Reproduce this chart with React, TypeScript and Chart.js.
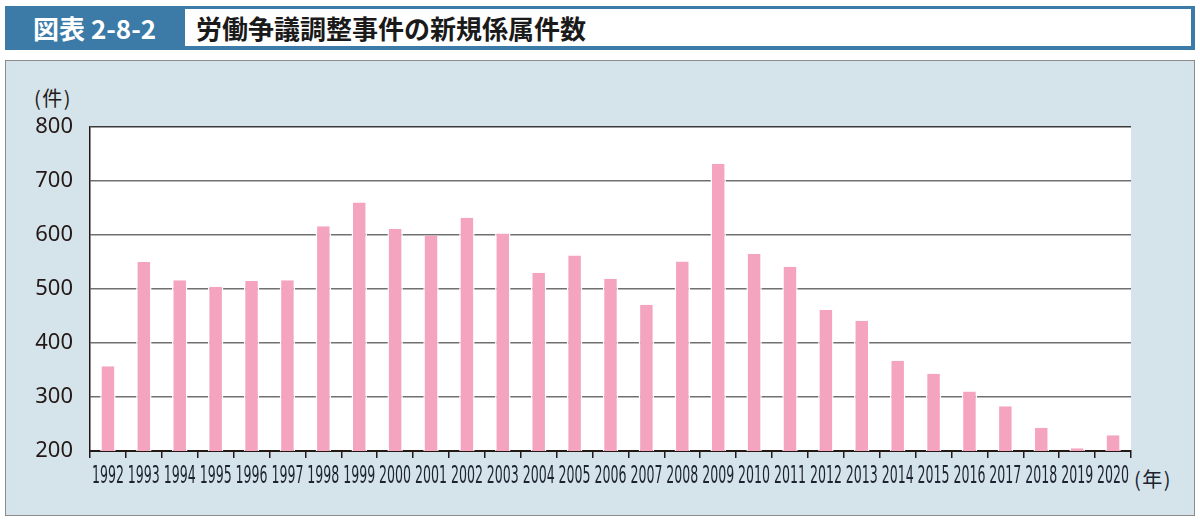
import React, { useEffect, useRef } from "react";
import { Chart, registerables } from "chart.js";

Chart.register(...registerables);

const years = [
  "1992", "1993", "1994", "1995", "1996", "1997", "1998", "1999", "2000", "2001",
  "2002", "2003", "2004", "2005", "2006", "2007", "2008", "2009", "2010", "2011",
  "2012", "2013", "2014", "2015", "2016", "2017", "2018", "2019", "2020",
];
const newCases = [
  357, 550, 516, 504, 515, 516, 616, 660, 611, 599,
  632, 603, 530, 562, 519, 471, 551, 732, 565, 541,
  461, 441, 367, 343, 310, 283, 243, 205, 229,
];
const yMin = 200;
const yMax = 800;
const yStep = 100;

const TEXT = "#231815";
const XTEXT = "#1c2230";
const CJK = "'Noto Sans CJK JP', 'Noto Sans', sans-serif";

const plotBgPlugin = {
  id: "plotBg",
  beforeDraw(chart: any) {
    const { ctx, chartArea } = chart;
    ctx.save();
    ctx.fillStyle = "#ffffff";
    ctx.fillRect(chartArea.left, chartArea.top, chartArea.right - chartArea.left, chartArea.bottom - chartArea.top);
    ctx.restore();
  },
};

const xLabelPlugin = {
  id: "xLabels",
  afterDraw(chart: any) {
    const { ctx, chartArea } = chart;
    const xs = chart.scales.x;
    const labels = chart.data.labels as string[];
    ctx.save();
    ctx.fillStyle = XTEXT;
    ctx.font = "24px 'Liberation Sans Narrow', 'DejaVu Sans Condensed', 'Roboto', sans-serif";
    ctx.textAlign = "center";
    ctx.textBaseline = "middle";
    labels.forEach((lab, i) => {
      const x = xs.getPixelForTick(i);
      const w = ctx.measureText(lab).width || 32;
      const sx = Math.min(1, 32 / w);
      ctx.save();
      ctx.translate(x, chartArea.bottom + 26);
      ctx.scale(sx, 1);
      ctx.fillText(lab, 0, 0);
      ctx.restore();
    });
    ctx.restore();
  },
};

function BarChart() {
  const ref = useRef<HTMLCanvasElement | null>(null);
  useEffect(() => {
    if (!ref.current) return;
    const chart = new Chart(ref.current, {
      type: "bar",
      data: {
        labels: years,
        datasets: [
          {
            data: newCases,
            backgroundColor: "#f5a4c0",
            borderColor: "#ffffff",
            borderWidth: { left: 1.5, right: 1.5, top: 0, bottom: 0 },
            borderSkipped: "bottom",
            barPercentage: 0.43,
            categoryPercentage: 1,
          },
        ],
      },
      options: {
        responsive: false,
        animation: false,
        events: [],
        layout: { padding: { top: 127, right: 69, left: 0, bottom: 0 } },
        plugins: { legend: { display: false }, tooltip: { enabled: false }, title: { display: false } },
        scales: {
          x: {
            offset: true,
            afterFit(scale: any) {
              scale.height = 71;
            },
            grid: {
              display: true,
              drawOnChartArea: false,
              drawTicks: true,
              tickLength: 7,
              color: TEXT,
              lineWidth: 1.5,
              offset: true,
            },
            border: { display: true, color: TEXT, width: 2 },
            ticks: { display: false },
          },
          y: {
            min: yMin,
            max: yMax,
            afterFit(scale: any) {
              scale.width = 90;
            },
            grid: {
              drawTicks: false,
              color: (c: any) => (c.tick && c.tick.value === yMax ? "#3a3a3a" : "#707070"),
              lineWidth: 1.5,
            },
            border: { display: true, color: TEXT, width: 1.5 },
            ticks: {
              stepSize: yStep,
              padding: 17,
              color: TEXT,
              font: { family: "'Noto Sans', 'Open Sans', sans-serif", size: 22 },
            },
          },
        },
      },
      plugins: [plotBgPlugin, xLabelPlugin],
    });
    return () => chart.destroy();
  }, []);
  return (
    <canvas
      ref={ref}
      width={1200}
      height={522}
      style={{ position: "absolute", left: 0, top: 0, width: 1200, height: 522 }}
    />
  );
}

export default function App() {
  return (
    <div
      style={{
        position: "absolute",
        left: 0,
        top: 0,
        width: 1200,
        height: 522,
        background: "#ffffff",
        fontFamily: CJK,
        overflow: "hidden",
      }}
    >
      <div
        style={{
          position: "absolute",
          left: 5,
          top: 6,
          width: 1190,
          height: 44,
          background: "#3c7ba7",
        }}
      />
      <div
        style={{
          position: "absolute",
          left: 185,
          top: 9,
          width: 1006,
          height: 37,
          background: "#ffffff",
        }}
      />
      <div
        style={{
          position: "absolute",
          left: 33,
          top: 6,
          height: 44,
          lineHeight: "44px",
          color: "#ffffff",
          fontWeight: 700,
          fontSize: 26,
          whiteSpace: "nowrap",
        }}
      >
        図表 2-8-2
      </div>
      <div
        style={{
          position: "absolute",
          left: 196,
          top: 7,
          height: 42,
          lineHeight: "42px",
          color: "#1a1a1a",
          fontWeight: 700,
          fontSize: 26,
          whiteSpace: "nowrap",
        }}
      >
        労働争議調整事件の新規係属件数
      </div>
      <div
        style={{
          position: "absolute",
          left: 5,
          top: 60,
          width: 1190,
          height: 456,
          background: "#d5e3eb",
          border: "1.5px solid #8a8a8a",
          boxSizing: "border-box",
        }}
      />
      <div
        style={{
          position: "absolute",
          left: 34,
          top: 85,
          fontSize: 20,
          lineHeight: "26px",
          letterSpacing: 1.5,
          color: TEXT,
          whiteSpace: "nowrap",
        }}
      >
        (件)
      </div>
      <div
        style={{
          position: "absolute",
          left: 1134,
          top: 466,
          fontSize: 20,
          lineHeight: "26px",
          letterSpacing: 1.5,
          color: XTEXT,
          whiteSpace: "nowrap",
        }}
      >
        (年)
      </div>
      <BarChart />
    </div>
  );
}
